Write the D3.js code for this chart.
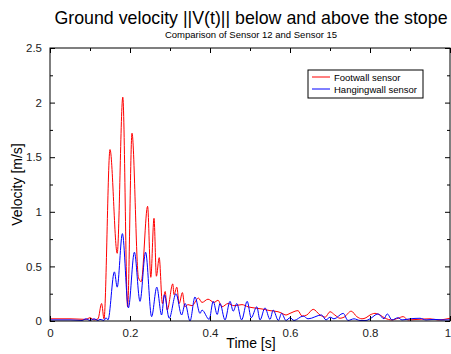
<!DOCTYPE html>
<html>
<head>
<meta charset="utf-8">
<script src="https://cdn.jsdelivr.net/npm/d3@7"></script>
<style>
  body { margin: 0; background: #fff; }
  svg { display: block; font-family: "Liberation Sans", Arial, sans-serif; }
</style>
</head>
<body>
<script>
// footwall sensor (red) - time [s], velocity [m/s]
const footT = [0, 0.05, 0.09, 0.1, 0.11, 0.12, 0.129, 0.135, 0.150, 0.168, 0.182, 0.194, 0.205, 0.221, 0.228, 0.244, 0.252, 0.260, 0.266, 0.273, 0.281, 0.288, 0.293, 0.307, 0.31, 0.317, 0.323, 0.331, 0.337, 0.345, 0.355, 0.371, 0.38, 0.395, 0.41, 0.42, 0.43, 0.445, 0.46, 0.48, 0.495, 0.51, 0.53, 0.55, 0.57, 0.58, 0.59, 0.6, 0.62, 0.63, 0.642, 0.658, 0.675, 0.688, 0.70, 0.712, 0.725, 0.735, 0.753, 0.767, 0.78, 0.79, 0.8, 0.8125, 0.825, 0.838, 0.855, 0.87, 0.883, 0.895, 0.92, 0.95, 0.97, 1.0];
const footV = [0.02, 0.02, 0.015, 0.03, 0.01, 0.02, 0.16, 0.02, 1.57, 0.62, 2.05, 0.13, 1.72, 0.40, 0.36, 1.05, 0.40, 0.94, 0.41, 0.58, 0.16, 0.27, 0.10, 0.34, 0.24, 0.31, 0.16, 0.26, 0.13, 0.15, 0.14, 0.21, 0.17, 0.2, 0.17, 0.19, 0.13, 0.16, 0.14, 0.15, 0.13, 0.12, 0.11, 0.095, 0.085, 0.07, 0.055, 0.07, 0.095, 0.045, 0.055, 0.107, 0.055, 0.035, 0.085, 0.055, 0.025, 0.035, 0.09, 0.04, 0.02, 0.03, 0.055, 0.07, 0.055, 0.025, 0.01, 0.025, 0.04, 0.01, 0.015, 0.02, 0.01, 0.025];

// hangingwall sensor (blue)
const hangT = [0, 0.05, 0.08, 0.09, 0.1, 0.11, 0.12, 0.125, 0.135, 0.14, 0.145, 0.161, 0.168, 0.181, 0.196, 0.211, 0.225, 0.239, 0.254, 0.267, 0.279, 0.286, 0.298, 0.315, 0.329, 0.338, 0.35, 0.3625, 0.375, 0.38, 0.398, 0.408, 0.418, 0.425, 0.4375, 0.45, 0.458, 0.467, 0.479, 0.493, 0.503, 0.517, 0.525, 0.5375, 0.55, 0.558, 0.571, 0.579, 0.59, 0.6, 0.61, 0.633, 0.645, 0.679, 0.69, 0.7, 0.71, 0.733, 0.745, 0.76, 0.775, 0.79, 0.8, 0.82, 0.835, 0.843, 0.855, 0.87, 0.88, 0.9, 0.925, 0.94, 0.96, 0.98, 1.0];
const hangV = [0.01, 0.01, 0.005, 0.02, 0.005, 0.02, 0.005, 0.015, 0.005, 0.03, 0.01, 0.45, 0.31, 0.80, 0.12, 0.63, 0.18, 0.63, 0.04, 0.31, 0.055, 0.24, 0.025, 0.25, 0.055, 0.16, 0.0, 0.22, 0.07, 0.1, 0.015, 0.18, 0.06, 0.16, 0.01, 0.18, 0.09, 0.16, 0.01, 0.18, 0.03, 0.13, 0.01, 0.12, 0.015, 0.10, 0.005, 0.07, 0.005, 0.03, 0.005, 0.045, 0.02, 0.055, 0.01, 0.035, 0.02, 0.07, 0.005, 0.02, 0.005, 0.005, 0.02, 0.065, 0.02, 0.065, 0.01, 0.03, 0.01, 0.02, 0.025, 0.01, 0.015, 0.01, 0.01];

const xTicks = [0, 0.2, 0.4, 0.6, 0.8, 1];
const yTicks = [0, 0.5, 1, 1.5, 2, 2.5];
const legendNames = ['Footwall sensor', 'Hangingwall sensor'];
const colors = ['#ff0000', '#0000ff'];

const W = 451, H = 354;
const m = { top: 48, right: 1, bottom: 33, left: 50 };
const iw = W - m.left - m.right, ih = H - m.top - m.bottom;

const svg = d3.select('body').append('svg')
    .attr('width', W)
    .attr('height', H);

const x = d3.scaleLinear().domain([0, 1]).range([0, iw]);
const y = d3.scaleLinear().domain([0, 2.5]).range([ih, 0]);

// titles
svg.append('text')
    .attr('x', 251).attr('y', 24)
    .attr('text-anchor', 'middle')
    .style('font-size', '17.8px')
    .text('Ground velocity ||V(t)|| below and above the stope');
svg.append('text')
    .attr('x', 251).attr('y', 38)
    .attr('text-anchor', 'middle')
    .style('font-size', '9.5px')
    .text('Comparison of Sensor 12 and Sensor 15');

const g = svg.append('g').attr('transform', `translate(${m.left},${m.top})`);

g.append('clipPath').attr('id', 'clip')
    .append('rect').attr('width', iw).attr('height', ih);

const line = d3.line()
    .x(d => x(d[0]))
    .y(d => y(d[1]))
    .curve(d3.curveMonotoneX);

const series = [d3.zip(footT, footV), d3.zip(hangT, hangV)];

g.append('g').attr('clip-path', 'url(#clip)')
    .selectAll('path')
    .data(series)
    .enter().append('path')
    .attr('fill', 'none')
    .attr('stroke', (d, i) => colors[i])
    .attr('stroke-width', 1)
    .attr('d', line);

// axes, ticks pointing inward, mirrored on top/right
const tickStyle = sel => {
    sel.select('.domain').remove();
    sel.selectAll('line').attr('stroke', '#000');
    sel.selectAll('text').style('font-size', '11.5px').attr('fill', '#222');
};

g.append('g').attr('transform', `translate(0,${ih})`)
    .call(d3.axisBottom(x).tickValues(xTicks).tickSize(-5).tickPadding(8).tickFormat(d3.format('')))
    .call(tickStyle)
    .selectAll('text').filter(d => d === 1).attr('dx', '-2.5');
g.append('g').attr('transform', `translate(0,${ih})`)
    .call(d3.axisBottom(x).tickValues(d3.range(0.1, 1, 0.2)).tickSize(-3).tickFormat(''))
    .call(tickStyle);
g.append('g')
    .call(d3.axisTop(x).tickValues(xTicks).tickSize(-5).tickFormat(''))
    .call(tickStyle);
g.append('g')
    .call(d3.axisTop(x).tickValues(d3.range(0.1, 1, 0.2)).tickSize(-3).tickFormat(''))
    .call(tickStyle);

g.append('g')
    .call(d3.axisLeft(y).tickValues(yTicks).tickSize(-5).tickPadding(8).tickFormat(d3.format('')))
    .call(tickStyle);
g.append('g')
    .call(d3.axisLeft(y).tickValues(d3.range(0.25, 2.5, 0.5)).tickSize(-3).tickFormat(''))
    .call(tickStyle);
g.append('g').attr('transform', `translate(${iw},0)`)
    .call(d3.axisRight(y).tickValues(yTicks).tickSize(-5).tickFormat(''))
    .call(tickStyle);
g.append('g').attr('transform', `translate(${iw},0)`)
    .call(d3.axisRight(y).tickValues(d3.range(0.25, 2.5, 0.5)).tickSize(-3).tickFormat(''))
    .call(tickStyle);

g.append('rect')
    .attr('width', iw).attr('height', ih)
    .attr('fill', 'none').attr('stroke', '#000').attr('stroke-width', 1);

// axis labels
svg.append('text')
    .attr('x', 251).attr('y', 348)
    .attr('text-anchor', 'middle')
    .style('font-size', '14px')
    .text('Time [s]');
svg.append('text')
    .attr('transform', `translate(22,${m.top + ih / 2}) rotate(-90)`)
    .attr('text-anchor', 'middle')
    .style('font-size', '14px')
    .text('Velocity [m/s]');

// legend
const lg = svg.append('g').attr('transform', 'translate(308,70)');
lg.append('rect')
    .attr('width', 115).attr('height', 28)
    .attr('fill', '#fff').attr('stroke', '#000');
legendNames.forEach((name, i) => {
    lg.append('line')
        .attr('x1', 4).attr('x2', 22)
        .attr('y1', 7 + i * 12).attr('y2', 7 + i * 12)
        .attr('stroke', colors[i]);
    lg.append('text')
        .attr('x', 26).attr('y', 10.5 + i * 12)
        .style('font-size', '9.5px')
        .text(name);
});
</script>
</body>
</html>
